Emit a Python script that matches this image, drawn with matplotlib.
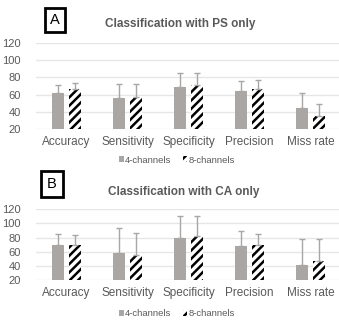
import matplotlib
matplotlib.use("Agg")
import matplotlib.pyplot as plt
from matplotlib.patches import Patch, Rectangle
import numpy as np

plt.rcParams['font.family'] = ['Liberation Sans', 'DejaVu Sans']
plt.rcParams['hatch.linewidth'] = 1.8

categories = ["Accuracy", "Sensitivity", "Specificity", "Precision", "Miss rate"]
series_names = ["4-channels", "8-channels"]

# Panel A: Classification with PS only
ps_4 = [62, 55.5, 69, 64.5, 44]
ps_4_err = [9, 17, 16, 11.5, 17.5]
ps_8 = [66, 57.5, 71, 66, 35]
ps_8_err = [7, 14.5, 14, 11, 14]

# Panel B: Classification with CA only
ca_4 = [69.5, 58.5, 79, 68, 41]
ca_4_err = [16, 35, 32, 21, 36.5]
ca_8 = [69.5, 55, 82, 69.5, 47]
ca_8_err = [14, 32, 28.5, 15.5, 31]

yticks = [20, 40, 60, 80, 100, 120]

W, H = 339, 322
fig = plt.figure(figsize=(W / 100, H / 100), dpi=100)

GRAY = '#a9a6a4'
TXT = '#595959'
GRID = '#e6e6e6'


def px_axes(left, top, right, bottom):
    return fig.add_axes([left / W, 1 - bottom / H, (right - left) / W, (bottom - top) / H])


def draw_panel(ax, v4, e4, v8, e8):
    x = np.arange(len(categories))
    w = 0.21
    off = 0.14
    ax.bar(x - off, np.array(v4) - 20, w, bottom=20, color=GRAY, linewidth=0,
           yerr=[np.zeros(len(e4)), e4], ecolor=GRAY,
           error_kw=dict(elinewidth=1.0, capsize=2, capthick=1.0), zorder=3)
    ax.bar(x + off, np.array(v8) - 20, w, bottom=20, color='white', edgecolor='black',
           hatch='////', linewidth=0,
           yerr=[np.zeros(len(e8)), e8], ecolor=GRAY,
           error_kw=dict(elinewidth=1.0, capsize=2, capthick=1.0), zorder=3)
    ax.set_xlim(-0.5, len(categories) - 0.5)
    ax.set_ylim(20, 120)
    ax.set_yticks(yticks)
    ax.set_xticks(x)
    ax.set_xticklabels(categories)
    ax.tick_params(axis='x', length=0, pad=5, labelsize=8.5, colors=TXT)
    ax.tick_params(axis='y', length=0, pad=11, labelsize=8, colors=TXT)
    for s in ax.spines.values():
        s.set_visible(False)
    ax.grid(axis='y', color=GRID, linewidth=1.0, zorder=0)
    ax.set_axisbelow(True)


def draw_label(letter, x0, y0, x1, y1):
    r = Rectangle((x0 / W, 1 - y1 / H), (x1 - x0) / W, (y1 - y0) / H,
                  transform=fig.transFigure, fill=False, edgecolor='black', linewidth=2.0)
    fig.add_artist(r)
    fig.text((x0 + x1) / 2 / W, 1 - (y0 + y1) / 2 / H, letter, ha='center', va='center',
             fontsize=10.5, color='black')


def draw_legend(cx, cy):
    handles = [Patch(facecolor=GRAY, edgecolor='none'),
               Patch(facecolor='white', edgecolor='black', hatch='////', linewidth=0)]
    leg = fig.legend(handles, series_names, loc='center', bbox_to_anchor=(cx / W, 1 - cy / H),
                     ncol=2, frameon=False, fontsize=6.8, handlelength=0.5, handleheight=0.5,
                     handletextpad=0.15, columnspacing=1.2, borderpad=0)
    for t in leg.get_texts():
        t.set_color(TXT)


# Panel A
axA = px_axes(36, 43, 341, 129)
draw_panel(axA, ps_4, ps_4_err, ps_8, ps_8_err)
draw_label("A", 45, 8, 65, 32)
fig.text(180 / W, 1 - 24 / H, "Classification with PS only", ha='center', va='center',
         fontsize=8.5, fontweight='bold', color=TXT)
draw_legend(177, 160)

# Panel B
axB = px_axes(36, 209.3, 341, 280)
draw_panel(axB, ca_4, ca_4_err, ca_8, ca_8_err)
draw_label("B", 41, 171, 63, 197)
fig.text(184 / W, 1 - 192 / H, "Classification with CA only", ha='center', va='center',
         fontsize=8.5, fontweight='bold', color=TXT)
draw_legend(177, 314)

fig.savefig("out.png", dpi=100)
